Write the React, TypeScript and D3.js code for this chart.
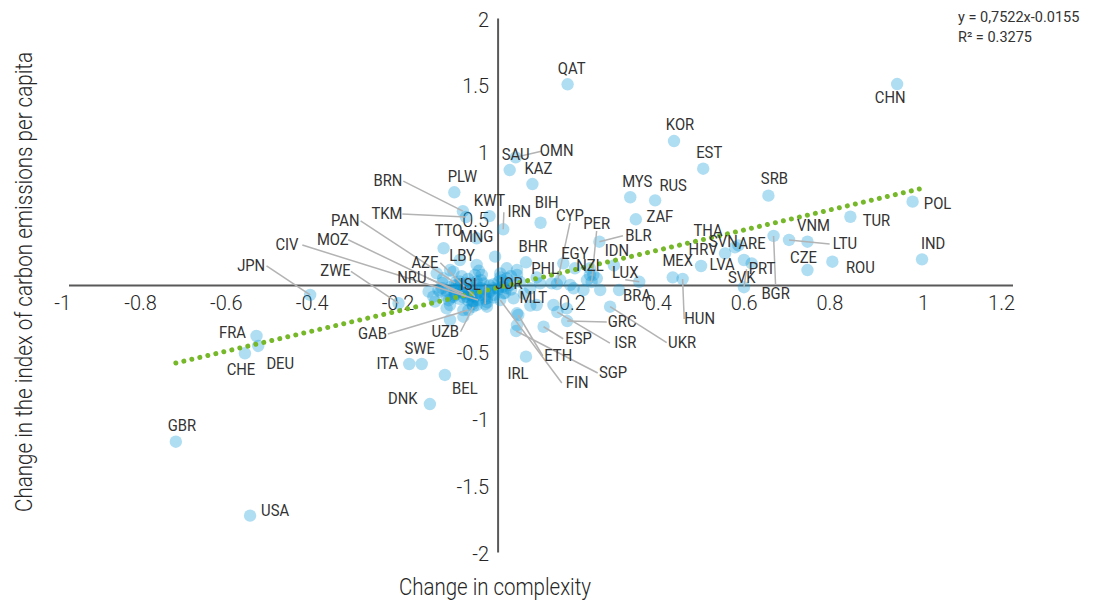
import React from 'react';
import * as d3 from 'd3';

// ---- data ----
const xTicks = [-1, -0.8, -0.6, -0.4, -0.2, 0.2, 0.4, 0.6, 0.8, 1, 1.2];
const yTicks = [-2, -1.5, -1, -0.5, 0.5, 1, 1.5, 2];

const labeledCodes = [
  'QAT','CHN','KOR','EST','SAU','OMN','KAZ','MYS','RUS','SRB','ZAF','TUR','POL','IND','VNM','LTU','CZE','ROU','BGR',
  'ARE','PRT','SVK','THA','HRV','SVN','LVA','MEX','HUN','BLR','PER','CYP','IDN','EGY','NZL','LUX','BRA','PHL','BHR',
  'JOR','MLT','ISL','PLW','BRN','TKM','KWT','IRN','BIH','TTO','MNG','LBY','PAN','MOZ','CIV','JPN','ZWE','AZE','NRU',
  'GAB','UZB','FRA','DEU','CHE','ITA','SWE','BEL','DNK','GBR','USA','GRC','ISR','UKR','ESP','ETH','SGP','IRL','FIN'
];
const labeledX = [
  0.162, 0.930, 0.410, 0.478, 0.027, 0.041, 0.080, 0.308, 0.366, 0.630, 0.321, 0.821, 0.966, 0.988, 0.721, 0.678, 0.721, 0.779, 0.642,
  0.573, 0.573, 0.591, 0.552, 0.529, 0.560, 0.473, 0.407, 0.430, 0.236, 0.218, 0.137, 0.270, 0.179, 0.214, 0.329, 0.282, 0.098, 0.065,
  0.016, 0.075, -0.030, -0.102, -0.082, -0.075, -0.020, 0.012, 0.099, -0.127, -0.050, -0.007, -0.100, -0.073, -0.047, -0.438, -0.232, -0.054, -0.082,
  -0.069, -0.058, -0.563, -0.559, -0.590, -0.207, -0.178, -0.124, -0.159, -0.751, -0.578, 0.161, 0.138, 0.261, 0.106, 0.047, 0.042, 0.065, 0.005
];
const labeledY = [
  1.507, 1.509, 1.082, 0.875, 0.865, 0.960, 0.760, 0.661, 0.638, 0.673, 0.496, 0.515, 0.628, 0.196, 0.328, 0.341, 0.116, 0.178, 0.371,
  0.191, -0.013, 0.166, 0.286, 0.241, 0.300, 0.146, 0.061, 0.049, 0.328, 0.026, 0.011, 0.150, 0.129, 0.079, 0.028, -0.034, 0.016, 0.174,
  -0.056, -0.150, -0.140, 0.698, 0.557, 0.513, 0.520, 0.421, 0.470, 0.279, 0.354, 0.216, 0.019, -0.084, -0.109, -0.071, -0.133, -0.084, -0.056,
  -0.184, -0.159, -0.378, -0.453, -0.508, -0.588, -0.588, -0.670, -0.888, -1.170, -1.724, -0.266, -0.199, -0.159, -0.309, -0.221, -0.341, -0.533, -0.109
];

const otherX = [
  -0.089, -0.050, 0.020, 0.044, 0.005, -0.038, -0.104, -0.135, -0.147, -0.112, -0.081, -0.050, -0.026, -0.011, 0.012, 0.036,
  0.051, 0.075, 0.125, 0.145, 0.176, 0.207, 0.222, 0.160, 0.129, 0.090, 0.044, -0.058, -0.096, -0.128, -0.162, -0.081,
  -0.065, -0.104, -0.034, 0.001, 0.028, 0.044, 0.214, 0.152, -0.054, 0.230, 0.168, 0.020, 0.044, 0.238, 0.199, -0.112,
  -0.143, -0.139, -0.151, -0.120, -0.081, -0.026, -0.112, -0.060, -0.040, -0.020, -0.080, -0.030, 0.000, -0.100, -0.070,
  -0.050, -0.090, -0.010, 0.020, -0.120, -0.060, 0.060, 0.090,
  -0.110, -0.090, -0.070, -0.050, -0.040, -0.030, -0.020, -0.080, -0.060, -0.100, -0.130, -0.070, -0.040, -0.010,
  0.010, 0.030, -0.090, -0.060, -0.115, -0.025, 0.005, -0.045, -0.085, 0.030,
  -0.120, -0.100, -0.080, -0.060, -0.040, -0.020, 0.000, 0.020, -0.110, -0.090, -0.070, -0.050, -0.030, -0.010, 0.010, -0.130
];
const otherY = [
  0.191, 0.154, 0.129, 0.079, 0.091, 0.079, 0.103, -0.046, -0.121, -0.146, -0.184, -0.146, -0.096, -0.021, -0.058, -0.096,
  0.028, -0.021, 0.016, 0.041, -0.021, 0.041, 0.079, -0.171, -0.146, -0.146, -0.208, -0.121, 0.004, 0.054, -0.046, -0.034,
  -0.071, -0.084, 0.016, 0.028, 0.004, -0.296, 0.129, 0.166, 0.079, 0.054, 0.004, 0.054, 0.116, -0.034, -0.034, 0.116,
  0.091, -0.034, -0.084, -0.171, -0.234, -0.159, -0.258, -0.020, -0.050, 0.000, -0.060, -0.080, -0.030, -0.030, 0.020,
  0.030, -0.100, -0.070, -0.020, -0.080, -0.120, -0.060, 0.060,
  -0.010, -0.050, -0.030, -0.060, -0.020, -0.100, -0.040, -0.090, -0.080, -0.070, -0.020, 0.050, 0.040, 0.010,
  -0.010, -0.030, 0.010, -0.140, -0.110, -0.125, 0.060, 0.110, 0.070, 0.070,
  -0.040, -0.060, -0.020, -0.040, -0.070, -0.050, -0.020, 0.020, -0.090, 0.030, -0.110, 0.000, -0.030, -0.090, 0.040, 0.020
];

const slope = 0.7522;
const intercept = -0.0155;
const equationText = 'y = 0,7522x-0.0155';
const r2Text = 'R\u00b2 = 0.3275';
const xTitle = 'Change in complexity';
const yTitle = 'Change in the index of carbon emissions per capita';

// label layout: [dx, dy, leader] offsets in px from the point
const labelLayout: Record<string, [number, number, boolean]> = {
  QAT: [4, -16, false], CHN: [-7, 13, false], KOR: [6, -17, false], EST: [6, -17, false], SAU: [6, -16, false],
  OMN: [41, -7, true], KAZ: [6, -16, false], MYS: [7, -16, false], RUS: [18, -15, false], SRB: [6, -18, false],
  ZAF: [24, -3, false], TUR: [26, 3, false], POL: [25, 1, false], IND: [11, -16, false], VNM: [6, -17, false],
  LTU: [56, 3, true], CZE: [-4, -13, false], ROU: [28, 5, false], BGR: [2, 57, true], ARE: [8, -17, false],
  PRT: [18, -19, true], SVK: [-10, 14, false], THA: [-27, -17, false], HRV: [-22, -4, false], SVN: [-15, -4, false],
  LVA: [21, -2, false], MEX: [5, -17, false], HUN: [17, 39, true], BLR: [39, -7, true], PER: [5, -59, true],
  CYP: [13, -69, true], IDN: [3, -15, false], EGY: [0, -15, false], NZL: [0, -10, false], LUX: [-14, -10, true],
  BRA: [18, 5, false], PHL: [5, -15, false], BHR: [7, -16, false], JOR: [4, -10, false], MLT: [3, -8, false],
  ISL: [-15, -20, true], PLW: [8, -16, false], BRN: [-75, -31, true], TKM: [-79, -4, true], KWT: [0, -16, false],
  IRN: [16, -18, true], BIH: [6, -21, false], TTO: [5, -18, false], MNG: [0, -2, false], LBY: [-33, -2, false],
  PAN: [-110, -63, true], MOZ: [-134, -58, true], CIV: [-191, -56, true], JPN: [-59, -30, true], ZWE: [-63, -33, true],
  AZE: [-50, -35, true], NRU: [-51, -16, true], GAB: [-96, 23, true], UZB: [-28, 24, true], FRA: [-24, -4, false],
  DEU: [22, 17, false], CHE: [-4, 16, false], ITA: [-22, -1, false], SWE: [-2, -16, false], BEL: [20, 13, false],
  DNK: [-27, -6, false], GBR: [6, -17, false], USA: [25, -6, false], GRC: [55, 0, true], ISR: [68, 30, true],
  UKR: [72, 35, true], ESP: [35, 11, true], ETH: [40, 40, true], SGP: [97, 41, true], IRL: [-8, 16, false],
  FIN: [77, 82, true]
};

const W = 1105;
const H = 603;
const FONT = 'Roboto, "Noto Sans", sans-serif';

export default function App() {
  const x = d3.scaleLinear().domain([-1, 1.2]).range([69, 1013]);
  const y = d3.scaleLinear().domain([-2, 2]).range([552.5, 18.5]);

  const allX = [...labeledX, ...otherX];
  const [xmin, xmax] = d3.extent(allX) as [number, number];
  const trend = d3.line<number>().x((d) => x(d)).y((d) => y(slope * d + intercept))([xmin, xmax]) || '';

  const labelW = 15 * 0.87 * 1.9; // approx width of 3-letter label

  const leaders = labeledCodes.map((c, i) => {
    const [dx, dy, lead] = labelLayout[c] || [6, -16, false];
    if (!lead) return null;
    const px = x(labeledX[i]);
    const py = y(labeledY[i]);
    const lx = px + dx;
    const ly = py + dy;
    let sx: number, sy: number;
    if (Math.abs(dx) > labelW / 2 + 2) {
      sx = dx > 0 ? lx - labelW / 2 - 3 : lx + labelW / 2 + 3;
      sy = ly + 1;
    } else {
      sx = lx;
      sy = dy > 0 ? ly - 8 : ly + 8;
    }
    return <line key={'l' + c} x1={sx} y1={sy} x2={px} y2={py} stroke="#b3b3b3" strokeWidth={1.5} />;
  });

  return (
    <svg width={W} height={H} style={{ position: 'absolute', left: 0, top: 0, background: '#fff' }}>
      {/* axes */}
      <line x1={x(-1)} x2={x(1.2)} y1={y(0)} y2={y(0)} stroke="#595959" strokeWidth={2} />
      <line x1={x(0)} x2={x(0)} y1={y(2)} y2={y(-2)} stroke="#595959" strokeWidth={2} />

      {xTicks.map((t) => (
        <text key={'xt' + t} transform={`translate(${x(t) + 2},${y(0) + 17}) scale(0.95,1)`} textAnchor="end"
          dominantBaseline="central" fontFamily={FONT} fontSize={21} fontWeight={300} fill="#262626">{String(t)}</text>
      ))}
      {yTicks.map((t) => (
        <text key={'yt' + t} transform={`translate(${x(0) - 9},${y(t) + 1}) scale(0.95,1)`} textAnchor="end"
          dominantBaseline="central" fontFamily={FONT} fontSize={21} fontWeight={300} fill="#262626">{String(t)}</text>
      ))}

      {/* points */}
      <g fill="#0796d8" fillOpacity={0.32}>
        {otherX.map((v, i) => <circle key={'o' + i} cx={x(v)} cy={y(otherY[i])} r={6.2} />)}
        {labeledX.map((v, i) => <circle key={'p' + i} cx={x(v)} cy={y(labeledY[i])} r={6.2} />)}
      </g>

      {/* trendline */}
      <path d={trend} fill="none" stroke="#76b82a" strokeWidth={5} strokeLinecap="round" strokeDasharray="0.01 8.2" />

      {leaders}

      {labeledCodes.map((c, i) => {
        const [dx, dy] = labelLayout[c] || [6, -16, false];
        return (
          <text key={'t' + c} transform={`translate(${x(labeledX[i]) + dx},${y(labeledY[i]) + dy}) scale(0.87,1)`}
            textAnchor="middle" dominantBaseline="central" fontFamily={FONT} fontSize={17} fill="#333">{c}</text>
        );
      })}

      {/* equation */}
      <text x={958} y={17} dominantBaseline="central" fontFamily={FONT} fontSize={14.5} fill="#333">{equationText}</text>
      <text x={958} y={37} dominantBaseline="central" fontFamily={FONT} fontSize={14.5} fill="#333">{r2Text}</text>

      {/* axis titles */}
      <text x={495} y={587} textAnchor="middle" dominantBaseline="central" fontFamily={FONT} fontSize={24} fontWeight={300}
        fill="#262626" textLength={192} lengthAdjust="spacingAndGlyphs">{xTitle}</text>
      <text transform="translate(24,282) rotate(-90)" textAnchor="middle" dominantBaseline="central" fontFamily={FONT}
        fontSize={23} fontWeight={300} fill="#262626" textLength={460} lengthAdjust="spacingAndGlyphs">{yTitle}</text>
    </svg>
  );
}
